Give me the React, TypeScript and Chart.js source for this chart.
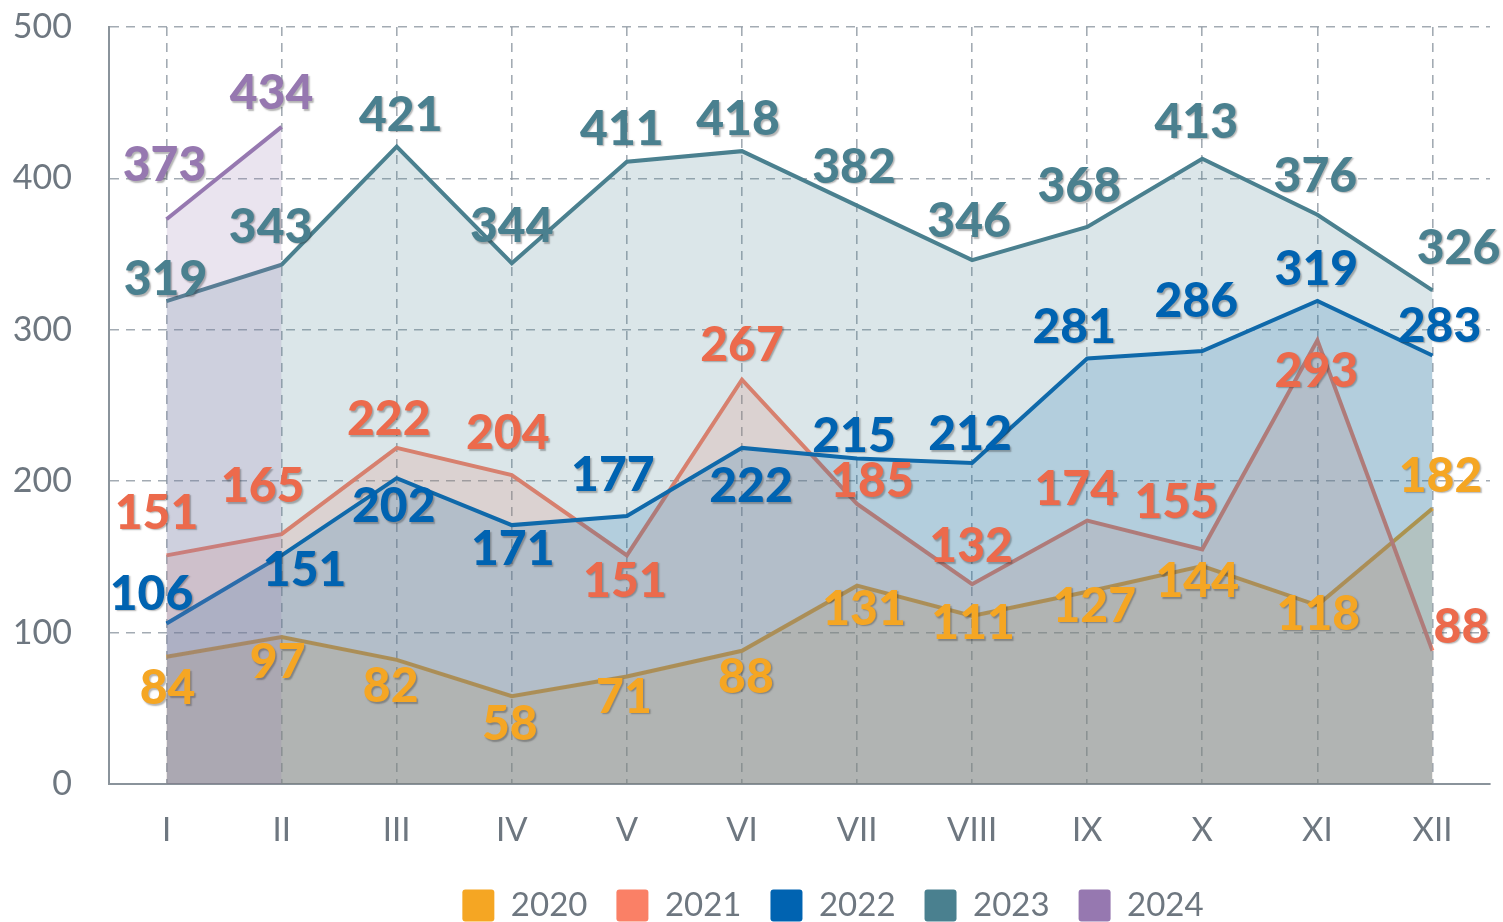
import React, { useEffect, useRef } from "react";
import { Chart, registerables } from "chart.js";

Chart.register(...registerables);

// ---------- data ----------
const months = ["I", "II", "III", "IV", "V", "VI", "VII", "VIII", "IX", "X", "XI", "XII"];
const years = ["2020", "2021", "2022", "2023", "2024"];

const values2020 = [84, 97, 82, 58, 71, 88, 131, 111, 127, 144, 118, 182];
const values2021 = [151, 165, 222, 204, 151, 267, 185, 132, 174, 155, 293, 88];
const values2022 = [106, 151, 202, 171, 177, 222, 215, 212, 281, 286, 319, 283];
const values2023 = [319, 343, 421, 344, 411, 418, 382, 346, 368, 413, 376, 326];
const values2024 = [373, 434, null, null, null, null, null, null, null, null, null, null];

const yTickValues = [0, 100, 200, 300, 400, 500];

// ---------- styles ----------
const lineColors = ["#F5A623", "#FA8066", "#0063B1", "#4A808F", "#9678B0"];
const labelColors = ["#F5A623", "#EC6A4C", "#0063B1", "#4A808F", "#9678B0"];
const fillAlpha = 0.2;

// label nudges (pixels, relative to each point) to reproduce the reference placement
const labelNudge2020 = [[1, 30], [-4, 24], [-6, 25], [-2, 27], [-3, 19], [4, 25], [7, 22], [1, 6], [7, 13], [-5, 14], [1, 7], [8, -34]];
const labelNudge2021 = [[-10, -44], [-19, -49], [-8, -30], [-4, -43], [-2, 24], [0, -36], [15, -24], [-1, -39], [-11, -33], [-26, -49], [-1, 29], [29, -25]];
const labelNudge2022 = [[-15, -31], [23, 13], [-3, 27], [1, 23], [-14, -42], [9, 37], [-3, -24], [-2, -30], [-13, -33], [-6, -51], [-1, -33], [7, -31]];
const labelNudge2023 = [[-1, -23], [-11, -39], [4, -33], [0, -38], [-5, -34], [-4, -33], [-3, -40], [-3, -40], [-8, -42], [-6, -38], [-2, -40], [26, -44]];
const labelNudge2024 = [[-2, -55], [-10, -35]];

const seriesValues = [values2020, values2021, values2022, values2023, values2024];
const labelNudges = [labelNudge2020, labelNudge2021, labelNudge2022, labelNudge2023, labelNudge2024];

const FONT = "Lato, 'Open Sans', sans-serif";
const TEXT_GRAY = "#6E7780";
const GRID_GRAY = "rgba(140,150,160,0.8)";
const AXIS_GRAY = "#8A939B";

// legend placement tweak (reference legend sits right of centre, lower)
const LEGEND_SHIFT_X = 88;
const LEGEND_SHIFT_Y = 14;

function rgba(hex: string, a: number) {
  const n = parseInt(hex.slice(1), 16);
  return `rgba(${(n >> 16) & 255},${(n >> 8) & 255},${n & 255},${a})`;
}

const valueLabelPlugin = {
  id: "valueLabels",
  afterLayout(chart: any) {
    const lg = chart.legend;
    if (lg) {
      lg.left += LEGEND_SHIFT_X;
      lg.right += LEGEND_SHIFT_X;
      lg.top += LEGEND_SHIFT_Y;
      lg.bottom += LEGEND_SHIFT_Y;
    }
  },
  afterDatasetsDraw(chart: any) {
    const ctx = chart.ctx;
    ctx.save();
    ctx.font = `900 48px ${FONT}`;
    ctx.textAlign = "center";
    ctx.textBaseline = "alphabetic";
    ctx.shadowColor = "rgba(40,40,40,0.35)";
    ctx.shadowOffsetX = 1.5;
    ctx.shadowOffsetY = 1.5;
    ctx.shadowBlur = 1.5;
    const capHalf = (48 * 0.717) / 2;
    chart.data.datasets.forEach((ds: any, di: number) => {
      const meta = chart.getDatasetMeta(di);
      const nudges = labelNudges[di];
      ctx.fillStyle = labelColors[di];
      meta.data.forEach((pt: any, i: number) => {
        const v = ds.data[i];
        if (v === null || v === undefined) return;
        const nd = nudges[i] || [0, -36];
        ctx.fillText(String(v), pt.x + nd[0], pt.y + nd[1] + capHalf);
      });
    });
    ctx.restore();
  },
};

export default function App() {
  const canvasRef = useRef<HTMLCanvasElement | null>(null);

  useEffect(() => {
    if (!canvasRef.current) return;
    const datasets = years.map((y, i) => ({
      label: y,
      data: seriesValues[i],
      borderColor: lineColors[i],
      backgroundColor: rgba(lineColors[i], fillAlpha),
      borderWidth: 4,
      fill: "origin",
      pointRadius: 0,
      pointHoverRadius: 0,
      tension: 0,
      spanGaps: false,
      order: years.length - i,
    }));

    const chart = new Chart(canvasRef.current, {
      type: "line",
      data: { labels: months, datasets },
      plugins: [valueLabelPlugin],
      options: {
        animation: false,
        responsive: true,
        maintainAspectRatio: false,
        layout: { padding: { top: 27, right: 13, left: 0, bottom: 4 } },
        plugins: {
          tooltip: { enabled: false },
          legend: {
            position: "bottom",
            labels: {
              font: { family: FONT, size: 33 },
              color: TEXT_GRAY,
              boxWidth: 32,
              boxHeight: 32,
              padding: 29,
              useBorderRadius: true,
              borderRadius: 3,
              generateLabels: () =>
                years.map((y, i) => ({
                  text: y,
                  fillStyle: lineColors[i],
                  strokeStyle: lineColors[i],
                  lineWidth: 0,
                  hidden: false,
                  datasetIndex: i,
                  fontColor: TEXT_GRAY,
                  borderRadius: 3,
                })),
            },
          },
        },
        scales: {
          x: {
            type: "category",
            offset: true,
            grid: {
              display: true,
              offset: false,
              color: GRID_GRAY,
              lineWidth: 1.6,
              drawTicks: false,
            },
            border: { display: true, color: AXIS_GRAY, width: 2, dash: [9, 7] },
            ticks: {
              font: { family: FONT, size: 33 },
              color: TEXT_GRAY,
              padding: 27,
              maxRotation: 0,
              autoSkip: false,
            },
            afterFit: (s: any) => {
              s.height = 62;
              s.paddingLeft = 0;
              s.paddingRight = 0;
            },
          },
          y: {
            min: 0,
            max: 500,
            afterBuildTicks: (s: any) => {
              s.ticks = yTickValues.map((v) => ({ value: v }));
            },
            grid: {
              color: GRID_GRAY,
              lineWidth: 1.6,
              drawTicks: false,
            },
            border: { display: true, color: AXIS_GRAY, width: 2, dash: [9, 7] },
            ticks: {
              font: { family: FONT, size: 34 },
              color: TEXT_GRAY,
              padding: 37,
            },
            afterFit: (s: any) => {
              s.width = 109;
              s.paddingTop = 0;
              s.paddingBottom = 0;
            },
          },
        },
      },
    });
    return () => chart.destroy();
  }, []);

  return (
    <div style={{ position: "absolute", left: 0, top: 0, width: 1503, height: 922 }}>
      <canvas ref={canvasRef} />
    </div>
  );
}
